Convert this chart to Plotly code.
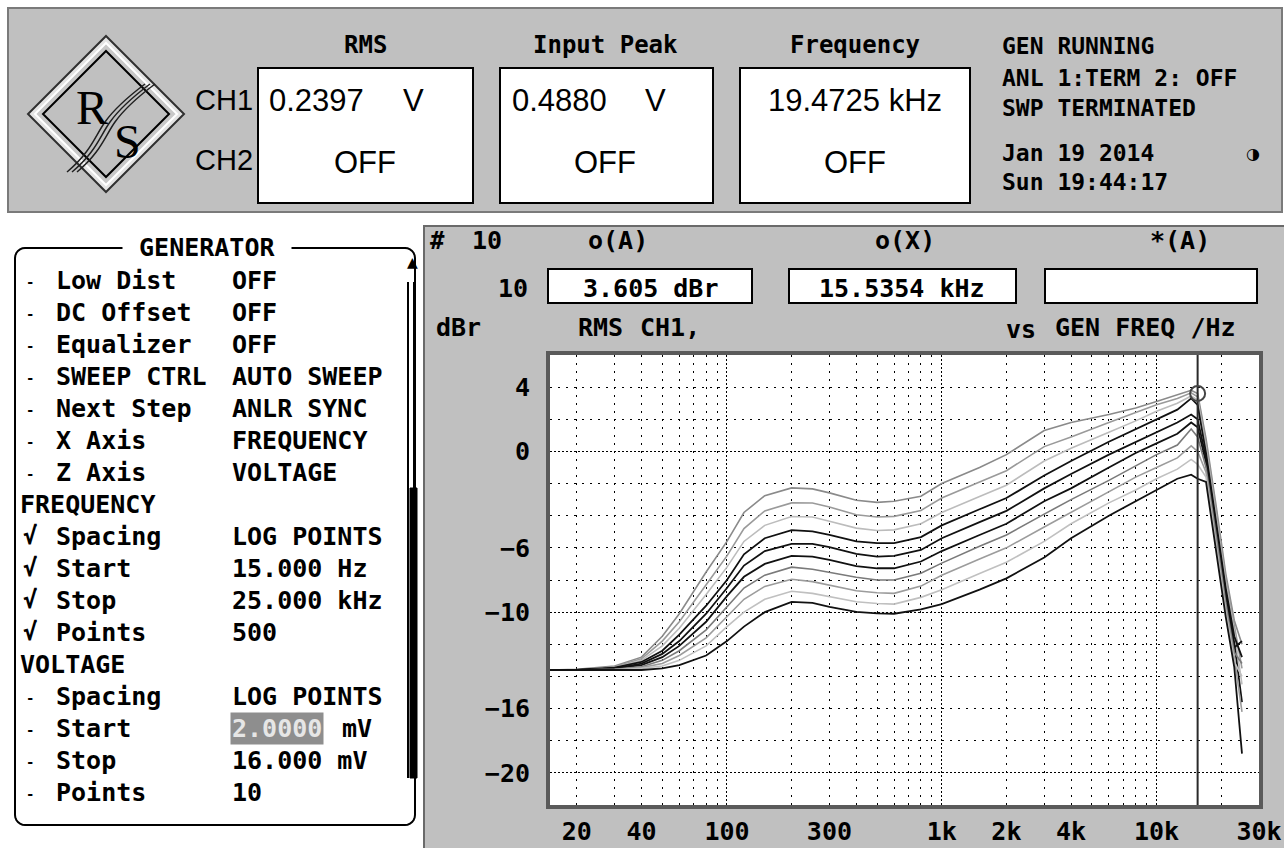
import math
import plotly.graph_objects as go

# ---------------- data ----------------
FREQ_HZ = [15, 20, 30, 40, 50, 60, 80, 100, 120, 150,
           200, 250, 300, 400, 500, 600, 800, 1000, 1500, 2000,
           3000, 4000, 6000, 8000, 10000, 12500, 14500, 15535, 17000, 19000,
           21000, 23000, 25000]

CURVE_1 = [-13.6, -13.55, -13.35, -12.8, -11.5, -10.1, -7.5, -5.6, -3.8, -2.75,
           -2.27, -2.33, -2.58, -3.04, -3.17, -3.1, -2.79, -2.0, -1.0, -0.2,
           1.3, 1.8, 2.3, 2.7, 3.1, 3.5, 3.8, 3.6, 0.8, -3.5,
           -7.6, -10.5, -12.0]
CURVE_2 = [-13.6, -13.6, -13.4, -12.9, -11.8, -10.6, -8.3, -6.5, -4.8, -3.7,
           -3.2, -3.21, -3.46, -3.94, -4.08, -4.04, -3.67, -2.9, -1.9, -1.2,
           0.3, 0.9, 1.8, 2.4, 2.9, 3.3, 3.65, 3.4, 0.5, -3.8,
           -7.9, -10.8, -13.5]
CURVE_3 = [-13.6, -13.6, -13.45, -13.0, -12.1, -11.0, -8.9, -7.2, -5.6, -4.6,
           -4.05, -4.08, -4.35, -4.77, -4.92, -4.88, -4.5, -3.8, -2.8, -2.1,
           -0.6, 0.2, 1.2, 1.9, 2.5, 3.0, 3.45, 3.2, 0.2, -4.1,
           -8.2, -11.2, -14.5]
CURVE_4 = [-13.6, -13.6, -13.45, -13.1, -12.4, -11.4, -9.6, -8.0, -6.4, -5.4,
           -4.9, -4.98, -5.19, -5.6, -5.71, -5.71, -5.33, -4.6, -3.6, -2.9,
           -1.5, -0.6, 0.6, 1.4, 2.0, 2.6, 3.3, 2.9, -0.1, -4.4,
           -8.5, -11.5, -12.8]
CURVE_5 = [-13.6, -13.6, -13.5, -13.2, -12.6, -11.8, -10.1, -8.5, -7.1, -6.2,
           -5.75, -5.75, -5.96, -6.38, -6.54, -6.5, -6.13, -5.4, -4.4, -3.7,
           -2.3, -1.4, -0.2, 0.6, 1.2, 1.8, 2.3, 2.0, -0.4, -4.7,
           -8.8, -11.9, -15.6]
CURVE_6 = [-13.6, -13.6, -13.5, -13.3, -12.8, -12.1, -10.6, -9.0, -7.8, -7.0,
           -6.5, -6.54, -6.75, -7.13, -7.27, -7.27, -6.85, -6.2, -5.2, -4.5,
           -3.1, -2.3, -1.0, -0.1, 0.5, 1.1, 1.8, 1.5, -0.7, -5.0,
           -9.1, -12.2, -11.8]
CURVE_7 = [-13.6, -13.6, -13.55, -13.4, -13.0, -12.4, -11.1, -9.7, -8.5, -7.7,
           -7.2, -7.33, -7.54, -7.83, -8.0, -8.0, -7.58, -6.95, -5.9, -5.2,
           -3.9, -3.0, -1.8, -0.9, -0.2, 0.4, 1.4, 0.9, -1.0, -5.3,
           -9.4, -12.5, -13.2]
CURVE_8 = [-13.6, -13.6, -13.55, -13.45, -13.2, -12.7, -11.6, -10.3, -9.2, -8.4,
           -7.95, -8.1, -8.31, -8.67, -8.79, -8.83, -8.38, -7.7, -6.7, -6.0,
           -4.7, -3.8, -2.5, -1.6, -1.0, -0.4, 0.35, 0.0, -1.3, -5.6,
           -9.7, -12.8, -16.2]
CURVE_9 = [-13.6, -13.6, -13.6, -13.5, -13.35, -13.0, -12.1, -10.9, -10.0, -9.2,
           -8.7, -8.83, -9.04, -9.35, -9.46, -9.5, -9.08, -8.6, -7.6, -6.9,
           -5.6, -4.5, -3.2, -2.4, -1.7, -1.1, -0.5, -0.8, -1.6, -5.9,
           -10.0, -13.1, -14.0]
CURVE_10 = [-13.6, -13.6, -13.6, -13.6, -13.5, -13.3, -12.7, -11.8, -10.9, -10.0,
            -9.36, -9.42, -9.67, -9.98, -10.08, -10.1, -9.83, -9.5, -8.6, -7.9,
            -6.6, -5.4, -4.0, -3.1, -2.4, -1.7, -1.45, -1.7, -1.9, -6.2,
            -10.3, -13.4, -18.8]
CURVES = [CURVE_1, CURVE_2, CURVE_3, CURVE_4, CURVE_5,
          CURVE_6, CURVE_7, CURVE_8, CURVE_9, CURVE_10]
CURVE_COLORS = ["#8a8a8a", "#9a9a9a", "#bcbcbc", "#111111", "#111111",
                "#111111", "#7a7a7a", "#9c9c9c", "#c0c0c0", "#111111"]

CURSOR_FREQ = 15535.4
CURSOR_DBR = 3.605

X_MIN, X_MAX = 15, 30000
Y_MIN, Y_MAX = -22, 6
X_MAJOR = [100, 1000, 10000]
X_MINOR = [20, 30, 40, 50, 60, 70, 80, 90, 200, 300, 400, 500, 600, 700, 800, 900,
           2000, 3000, 4000, 5000, 6000, 7000, 8000, 9000, 20000]
X_LABEL_VALS = [20, 40, 100, 300, 1000, 2000, 4000, 10000, 30000]
X_LABELS = ["20", "40", "100", "300", "1k", "2k", "4k", "10k", "30k"]
Y_MAJOR = [0, -10, -20]
Y_MINOR = [4, 2, -2, -4, -6, -8, -12, -14, -16, -18]
Y_LABEL_VALS = [4, 0, -6, -10, -16, -20]
Y_LABELS = ["4", "0", "\u22126", "\u221210", "\u221216", "\u221220"]

# ---------------- layout geometry ----------------
W, H = 1284, 848
L, R, T, B = 550, 25, 355, 43
PW, PH = W - L - R, H - T - B
MONO = "DejaVu Sans Mono"
BIG = "Liberation Sans, Arial, sans-serif"


def px(x):
    return (x - L) / PW


def py(y):
    return (H - B - y) / PH


shapes = []
annotations = []


def rect(x0, y0, x1, y1, fill, line="#000000", lw=2):
    shapes.append(dict(type="rect", xref="paper", yref="paper",
                       x0=px(x0), x1=px(x1), y0=py(y1), y1=py(y0),
                       fillcolor=fill, line=dict(color=line, width=lw), layer="below"))


def path(points, fill=None, line="#000000", lw=2, closed=True):
    d = "M " + " L ".join(f"{px(a):.5f},{py(b):.5f}" for a, b in points)
    if closed:
        d += " Z"
    shapes.append(dict(type="path", xref="paper", yref="paper", path=d,
                       fillcolor=fill if fill else "rgba(0,0,0,0)",
                       line=dict(color=line, width=lw), layer="below"))


def rawpath(d_px, line="#000000", lw=2):
    out = []
    for cmd, pts in d_px:
        out.append(cmd + " " + " ".join(f"{px(a):.5f},{py(b):.5f}" for a, b in pts))
    shapes.append(dict(type="path", xref="paper", yref="paper", path=" ".join(out),
                       line=dict(color=line, width=lw), layer="below"))


def txt(x, y, s, size=26, anchor="center", color="#000000", family=MONO,
        weight="bold", **kw):
    annotations.append(dict(x=px(x), y=py(y), xref="paper", yref="paper", text=s,
                            showarrow=False, xanchor=anchor, yanchor="middle",
                            font=dict(family=family, size=size, color=color, weight=weight),
                            **kw))


# ---- top status panel ----
rect(8, 8, 1282, 212, "#c0c0c0", line="#7a7a7a", lw=2)
for x0, x1 in [(258, 473), (500, 713), (740, 970)]:
    rect(x0, 68, x1, 203, "#ffffff", line="#000000", lw=2)

# logo
cx, cy = 106, 114
path([(cx, cy - 78), (cx + 78, cy), (cx, cy + 78), (cx - 78, cy)], fill="#e4e4e4", line="#303030", lw=2)
path([(cx, cy - 71), (cx + 71, cy), (cx, cy + 71), (cx - 71, cy)], fill="#c8c8c8", line="#ffffff", lw=2)
path([(cx, cy - 63), (cx + 63, cy), (cx, cy + 63), (cx - 63, cy)], fill="#c0c0c0", line="#000000", lw=2)
for off in (-5, 0, 5):
    rawpath([("M", [(72 + off, 172)]),
             ("C", [(96 + off, 152), (100 + off, 136), (110 + off, 122)]),
             ("S", [(134 + off, 96), (150 + off, 84)])], line="#202020", lw=1.5)
txt(92, 108, "R", size=48, family="Liberation Serif, DejaVu Serif, serif", weight="normal")
txt(127, 142, "S", size=48, family="Liberation Serif, DejaVu Serif, serif", weight="normal")

txt(224, 100, "CH1", size=29, family=BIG, weight="normal")
txt(224, 160, "CH2", size=29, family=BIG, weight="normal")
txt(365, 45, "RMS", size=24)
txt(605, 45, "Input Peak", size=24)
txt(855, 45, "Frequency", size=24)
txt(267, 100, "0.2397", size=31, family=BIG, weight="normal", anchor="left")
txt(413, 100, "V", size=31, family=BIG, weight="normal")
txt(510, 100, "0.4880", size=31, family=BIG, weight="normal", anchor="left")
txt(655, 100, "V", size=31, family=BIG, weight="normal")
txt(855, 100, "19.4725 kHz", size=31, family=BIG, weight="normal")
for xc in (365, 605, 855):
    txt(xc, 162, "OFF", size=31, family=BIG, weight="normal")
for yy, s in [(46, "GEN RUNNING"), (78, "ANL 1:TERM 2: OFF"), (108, "SWP TERMINATED"),
              (153, "Jan 19 2014"), (182, "Sun 19:44:17")]:
    txt(1000, yy, s, size=23, anchor="left")
txt(1253, 153, "\u25d1", size=16, family="DejaVu Sans")

# ---- generator panel ----
r = 10
gx0, gy0, gx1, gy1 = 15, 248, 415, 825
arc_pts = []
for (ccx, ccy, a0) in [(gx1 - r, gy0 + r, -90), (gx1 - r, gy1 - r, 0),
                       (gx0 + r, gy1 - r, 90), (gx0 + r, gy0 + r, 180)]:
    for k in range(7):
        a = math.radians(a0 + k * 15)
        arc_pts.append((ccx + r * math.cos(a), ccy + r * math.sin(a)))
path(arc_pts, fill="#ffffff", line="#000000", lw=2)
txt(207, 248, "\u00a0GENERATOR\u00a0", size=25, bgcolor="#ffffff")
# scroll bar
txt(412, 262, "\u25b2", size=14, family="DejaVu Sans")
path([(408, 282), (408, 778)], line="#000000", lw=2, closed=False)
path([(414, 282), (414, 778)], line="#000000", lw=2, closed=False)
rect(410, 488, 417, 778, "#000000", line="#000000", lw=1)

GEN_ROWS = [
    ("-", "Low Dist", "OFF"), ("-", "DC Offset", "OFF"), ("-", "Equalizer", "OFF"),
    ("-", "SWEEP CTRL", "AUTO SWEEP"), ("-", "Next Step", "ANLR SYNC"),
    ("-", "X Axis", "FREQUENCY"), ("-", "Z Axis", "VOLTAGE"),
    ("", "FREQUENCY", ""),
    ("\u221a", "Spacing", "LOG POINTS"), ("\u221a", "Start", "15.000 Hz"),
    ("\u221a", "Stop", "25.000 kHz"), ("\u221a", "Points", "500"),
    ("", "VOLTAGE", ""),
    ("-", "Spacing", "LOG POINTS"), ("-", "Start", "*"),
    ("-", "Stop", "16.000 mV"), ("-", "Points", "10"),
]
for i, (mark, label, value) in enumerate(GEN_ROWS):
    yy = 280 + 32 * i
    if mark == "":
        txt(18, yy, label, size=25, anchor="left")
        continue
    if mark == "-":
        txt(30, yy + 2, "-", size=14, anchor="center")
    else:
        txt(30, yy, mark, size=24, anchor="center")
    txt(54, yy, label, size=25, anchor="left")
    if value == "*":
        txt(230, yy, "2.0000", size=25, anchor="left", color="#e6e6e6",
            bgcolor="#8e8e8e", borderpad=1)
        txt(340, yy, "mV", size=25, anchor="left")
    else:
        txt(230, yy, value, size=25, anchor="left")

# ---- graph panel ----
rect(424, 226, 1286, 850, "#c0c0c0", line="#6a6a6a", lw=2)
for x0, x1 in [(548, 752), (789, 1016), (1045, 1257)]:
    rect(x0, 269, x1, 303, "#ffffff", line="#000000", lw=2)
shapes.append(dict(type="rect", xref="paper", yref="paper", x0=0, x1=1, y0=0, y1=1,
                   fillcolor="#ffffff", line=dict(width=0), layer="below"))

txt(437, 241, "#", size=24)
txt(487, 241, "10", size=25)
txt(618, 241, "o(A)", size=25)
txt(905, 241, "o(X)", size=25)
txt(1180, 241, "*(A)", size=25)
txt(530, 288, "10", size=25, anchor="right")
txt(650, 288, "3.605 dBr", size=25)
txt(902, 288, "15.5354 kHz", size=25)
txt(458, 327, "dBr", size=25)
txt(600, 327, "RMS", size=25)
txt(670, 327, "CH1,", size=25)
txt(1021, 329, "vs", size=25)
txt(1145, 327, "GEN FREQ /Hz", size=25)

# ---------------- traces ----------------
fig = go.Figure()
for ys, col in zip(CURVES, CURVE_COLORS):
    fig.add_trace(go.Scatter(x=FREQ_HZ, y=ys, mode="lines",
                             line=dict(color=col, width=1.8 if col == "#111111" else 1.6),
                             hoverinfo="skip", showlegend=False))
fig.add_trace(go.Scatter(x=[CURSOR_FREQ, CURSOR_FREQ], y=[Y_MIN, Y_MAX], mode="lines",
                         line=dict(color="#2a2a2a", width=2), hoverinfo="skip", showlegend=False))
fig.add_trace(go.Scatter(x=[CURSOR_FREQ], y=[CURSOR_DBR], mode="markers",
                         marker=dict(symbol="circle-open", size=15, color="#444444",
                                     line=dict(width=2)),
                         xaxis="x2", yaxis="y2", hoverinfo="skip", showlegend=False))

xr = [math.log10(X_MIN), math.log10(X_MAX)]
yr = [Y_MIN, Y_MAX]
tickfont = dict(family=MONO, size=25, color="#000000", weight="bold")
MINOR_DASH = "2px,6px"
MAJOR_DASH = "2px,2px"

fig.update_layout(
    width=W, height=H,
    margin=dict(l=L, r=R, t=T, b=B, pad=0, autoexpand=False),
    paper_bgcolor="#ffffff", plot_bgcolor="#ffffff",
    showlegend=False,
    shapes=shapes, annotations=annotations,
    xaxis=dict(type="log", range=xr, tickmode="array", tickvals=X_MAJOR, automargin=False,
               showticklabels=False, ticks="", showgrid=True, gridcolor="#000000",
               griddash=MAJOR_DASH, gridwidth=1, zeroline=False,
               showline=True, mirror=True, linecolor="#5a5a5a", linewidth=4,
               minor=dict(tickmode="array", tickvals=X_MINOR, showgrid=True,
                          gridcolor="#000000", griddash=MINOR_DASH, gridwidth=1, ticks="")),
    yaxis=dict(range=yr, tickmode="array", tickvals=Y_MAJOR, showticklabels=False,
               automargin=False,
               ticks="", showgrid=True, gridcolor="#000000", griddash=MAJOR_DASH,
               gridwidth=1, zeroline=False,
               showline=True, mirror=True, linecolor="#5a5a5a", linewidth=4,
               minor=dict(tickmode="array", tickvals=Y_MINOR, showgrid=True,
                          gridcolor="#000000", griddash=MINOR_DASH, gridwidth=1, ticks="")),
    xaxis2=dict(type="log", range=xr, overlaying="x", anchor="y2", side="bottom",
                automargin=False,
                tickmode="array", tickvals=X_LABEL_VALS, ticktext=X_LABELS,
                showgrid=False, zeroline=False, showline=False,
                ticks="outside", ticklen=4, tickcolor="rgba(0,0,0,0)", tickfont=tickfont),
    yaxis2=dict(range=yr, overlaying="y", anchor="x2", side="left", automargin=False,
                tickmode="array", tickvals=Y_LABEL_VALS, ticktext=Y_LABELS,
                showgrid=False, zeroline=False, showline=False,
                ticks="outside", ticklen=14, tickcolor="rgba(0,0,0,0)", tickfont=tickfont),
)

fig.write_html("out.html", config={"displayModeBar": False},
               post_script="document.body.style.margin='0px';")
